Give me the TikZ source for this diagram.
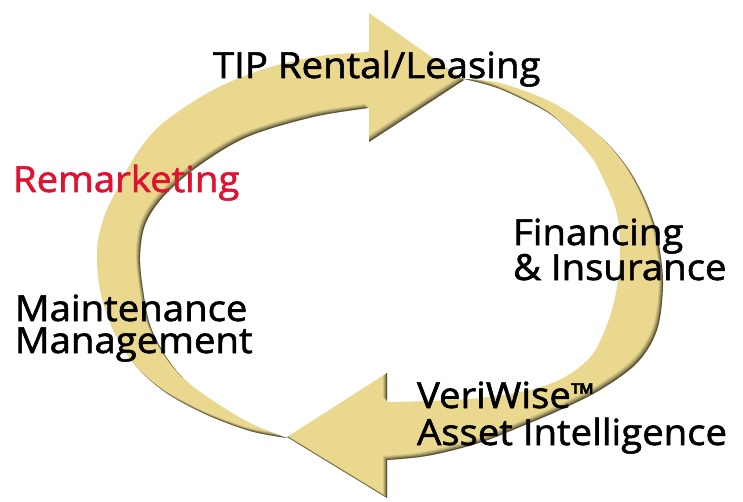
\documentclass[tikz,border=0pt]{standalone}
\usepackage{fontspec}
\setmainfont{Open Sans}[FakeStretch=1.065, FakeBold=1.6]
\definecolor{khaki}{RGB}{234,216,143}
\definecolor{gered}{RGB}{224,18,50}
\def\upperarrow{(287,438) -- plot[smooth,tension=0.55] coordinates {(287,438) (250,431) (205,414) (165,392) (135,365) (113,330) (100,290) (97,250) (103,220) (113,197) (137,153) (163,123) (213,90) (267,68) (320,56) (369,52)} -- (369,13) -- (464,80) -- (369,142) -- (369,108) -- plot[smooth,tension=0.55] coordinates {(369,108) (313,117) (247,137) (197,167) (163,197) (145,225) (140,257) (143,290) (150,325) (165,355) (185,380) (215,402) (250,423) (287,438)} -- cycle}
\def\lowerarrow{(464,79) -- plot[smooth,tension=0.55] coordinates {(464,79) (500,83) (547,100) (580,120) (607,143) (627,167) (642,193) (653,220) (659,245) (663,285) (657,330) (637,363) (600,390) (560,410) (520,427) (485,441) (450,451) (420,457) (387,460)} -- (387,498) -- (287,437) -- (387,373) -- (387,402) -- plot[smooth,tension=0.55] coordinates {(387,402) (430,401) (480,398) (530,390) (565,377) (592,355) (608,322) (617,287) (620,247) (616,210) (600,172) (590,155) (570,132) (547,112) (500,89) (464,79)} -- cycle}
\tikzset{
  lbl/.style={inner sep=0pt, outer sep=0pt, anchor=base west, align=left, text=black},
  band/.style={fill=khaki}
}
\begin{document}
\begin{tikzpicture}[x=1pt,y=-1pt]
\useasboundingbox (0,0) rectangle (743,502);
\fill[white] (0,0) rectangle (743,502);
% lower arrow
\fill[band] \lowerarrow;
\begin{scope}
  \clip \lowerarrow;
  \foreach \s/\o in {1/0.35,2/0.2,3/0.15,4/0.1} {
    \fill[black, opacity=\o, even odd rule] (-50,-50) rectangle (800,560) {[shift={(-\s,-\s)}] \lowerarrow};
  }
\end{scope}
% upper arrow
\fill[band] \upperarrow;
\begin{scope}
  \clip \upperarrow;
  \foreach \s/\o in {1/0.35,2/0.2,3/0.15,4/0.1} {
    \fill[black, opacity=\o, even odd rule] (-50,-50) rectangle (800,560) {[shift={(-\s,-\s)}] \upperarrow};
  }
\end{scope}
% labels
\node[lbl, font=\fontsize{36}{35}\selectfont] (tip) at (213,78) {TIP Rental/Leasing};
\node[lbl, font=\fontsize{36}{35}\selectfont, text=gered] (rem) at (13,192) {Remarketing};
\node[lbl, font=\fontsize{36}{35}\selectfont] (fin) at (513,280) {Financing\\\& Insurance};
\node[lbl, font=\fontsize{36}{32}\selectfont] (mnt) at (15,353) {Maintenance\\Management};
\node[lbl, font=\fontsize{36}{37}\selectfont] (vw) at (417,445) {VeriWise\raisebox{4pt}{\scalebox{0.8}{™}}\\Asset Intelligence};
\end{tikzpicture}
\end{document}
